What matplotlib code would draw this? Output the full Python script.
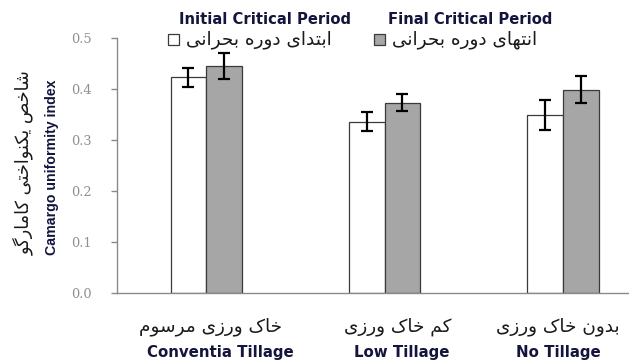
import matplotlib
matplotlib.use("Agg")
import matplotlib.pyplot as plt
import matplotlib.transforms as mtransforms
from matplotlib.patches import Rectangle
import numpy as np

# ---------------- data ----------------
cats_en = ["Conventia Tillage", "Low Tillage", "No Tillage"]
cats_fa = ["خاک ورزی مرسوم", "کم خاک ورزی", "بدون خاک ورزی"]
initial_vals = [0.423, 0.336, 0.349]
initial_err = [0.019, 0.018, 0.029]
final_vals = [0.445, 0.373, 0.399]
final_err = [0.026, 0.017, 0.027]
series_en = ["Initial Critical Period", "Final Critical Period"]
series_fa = ["ابتدای دوره بحرانی", "انتهای دوره بحرانی"]
ylabel_en = "Camargo uniformity index"
ylabel_fa = "شاخص یکنواختی کامارگو"
yticks = [0.0, 0.1, 0.2, 0.3, 0.4, 0.5]

# ------------- Persian shaping (presentation forms, visual order) -------------
FORMS = {
    'ا': (0xFE8D, 0xFE8E, None, None),
    'ب': (0xFE8F, 0xFE90, 0xFE91, 0xFE92),
    'ت': (0xFE95, 0xFE96, 0xFE97, 0xFE98),
    'ح': (0xFEA1, 0xFEA2, 0xFEA3, 0xFEA4),
    'خ': (0xFEA5, 0xFEA6, 0xFEA7, 0xFEA8),
    'د': (0xFEA9, 0xFEAA, None, None),
    'ر': (0xFEAD, 0xFEAE, None, None),
    'ز': (0xFEAF, 0xFEB0, None, None),
    'س': (0xFEB1, 0xFEB2, 0xFEB3, 0xFEB4),
    'ش': (0xFEB5, 0xFEB6, 0xFEB7, 0xFEB8),
    'ص': (0xFEB9, 0xFEBA, 0xFEBB, 0xFEBC),
    'م': (0xFEE1, 0xFEE2, 0xFEE3, 0xFEE4),
    'ن': (0xFEE5, 0xFEE6, 0xFEE7, 0xFEE8),
    'ه': (0xFEE9, 0xFEEA, 0xFEEB, 0xFEEC),
    'و': (0xFEED, 0xFEEE, None, None),
    'ی': (0xFBFC, 0xFBFD, 0xFBFE, 0xFBFF),
    'ک': (0xFB8E, 0xFB8F, 0xFB90, 0xFB91),
    'گ': (0xFB92, 0xFB93, 0xFB94, 0xFB95),
}


def joins_forward(c):
    f = FORMS.get(c)
    return f is not None and f[2] is not None


def shape(text):
    out = []
    n = len(text)
    for i, c in enumerate(text):
        f = FORMS.get(c)
        if f is None:
            out.append(c)
            continue
        prev_j = i > 0 and joins_forward(text[i - 1])
        next_j = (f[2] is not None) and i + 1 < n and text[i + 1] in FORMS
        if prev_j and next_j:
            code = f[3]
        elif prev_j:
            code = f[1]
        elif next_j:
            code = f[2]
        else:
            code = f[0]
        out.append(chr(code))
    return "".join(reversed(out))


# ---------------- figure ----------------
W, H = 629, 361
fig = plt.figure(figsize=(W / 100, H / 100), dpi=100)
fig.patch.set_facecolor("white")


def fx(px):
    return px / W


def fy(py):
    return 1 - py / H


ax = fig.add_axes([fx(117), fy(293), fx(629) - fx(117), fy(38) - fy(293)])

x = np.arange(len(cats_en))
bw = 0.2
gray_c = "#a6a6a6"
edge_c = "#3a3a3a"
ax.bar(x - bw / 2, initial_vals, bw, color="white", edgecolor=edge_c, linewidth=0.9, zorder=2)
ax.bar(x + bw / 2, final_vals, bw, color=gray_c, edgecolor=edge_c, linewidth=0.9, zorder=2)
ax.errorbar(x - bw / 2, initial_vals, yerr=initial_err, fmt="none", ecolor="black",
            elinewidth=1.6, capsize=4, capthick=1.6, zorder=3)
ax.errorbar(x + bw / 2, final_vals, yerr=final_err, fmt="none", ecolor="black",
            elinewidth=1.6, capsize=4, capthick=1.6, zorder=3)

ax.set_xlim(-0.5, 2.37)
ax.set_ylim(0, 0.5)
ax.set_yticks(yticks)
ax.set_yticklabels([f"{v:.1f}" for v in yticks], family="DejaVu Serif",
                   fontsize=9.3, color="#8f8f8f")
ax.set_xticks([])
for s in ["top", "right"]:
    ax.spines[s].set_visible(False)
for s in ["left", "bottom"]:
    ax.spines[s].set_color("#8a8a8a")
    ax.spines[s].set_linewidth(1.0)
ax.tick_params(axis="y", length=4, width=1.0, color="#8a8a8a", pad=14)

navy = "#14143c"
fa_color = "#1a1a1a"

# category labels (small pixel nudges to follow the reference placement)
en_dx = [14, 17, -5]
fa_dx = [4, 13, -5]
for i in range(len(cats_en)):
    t_en = mtransforms.offset_copy(
        mtransforms.blended_transform_factory(ax.transData, fig.transFigure),
        fig=fig, x=en_dx[i], y=0, units="dots")
    t_fa = mtransforms.offset_copy(
        mtransforms.blended_transform_factory(ax.transData, fig.transFigure),
        fig=fig, x=fa_dx[i], y=0, units="dots")
    ax.text(x[i], fy(327), shape(cats_fa[i]), transform=t_fa, ha="center", va="center",
            family="DejaVu Sans", fontsize=13.3, color=fa_color, clip_on=False)
    ax.text(x[i], fy(352), cats_en[i], transform=t_en, ha="center", va="center",
            family="DejaVu Sans", fontweight="bold", fontsize=10.8, color=navy, clip_on=False)

# y labels
fig.text(fx(52), fy(167), ylabel_en, rotation=90, ha="center", va="center",
         family="Liberation Sans", fontweight="bold", fontsize=10.2, color=navy)
fig.text(fx(23), fy(163), shape(ylabel_fa), rotation=90, ha="center", va="center",
         family="DejaVu Sans", fontsize=12.8, color=fa_color)

# legend
header_x = [265, 470]
sq_x = [168, 374]
sq_colors = ["white", gray_c]
for k in range(2):
    fig.text(fx(header_x[k]), fy(20), series_en[k], ha="center", va="center",
             family="DejaVu Sans", fontweight="bold", fontsize=10.6, color=navy)
    fig.patches.append(Rectangle((fx(sq_x[k]), fy(45)), fx(11), 11 / H,
                                 transform=fig.transFigure, facecolor=sq_colors[k],
                                 edgecolor=edge_c, linewidth=0.9))
    fig.text(fx(sq_x[k] + 18), fy(40), shape(series_fa[k]), ha="left", va="center",
             family="DejaVu Sans", fontsize=13.3, color=fa_color)

fig.savefig("out.png", dpi=100)
